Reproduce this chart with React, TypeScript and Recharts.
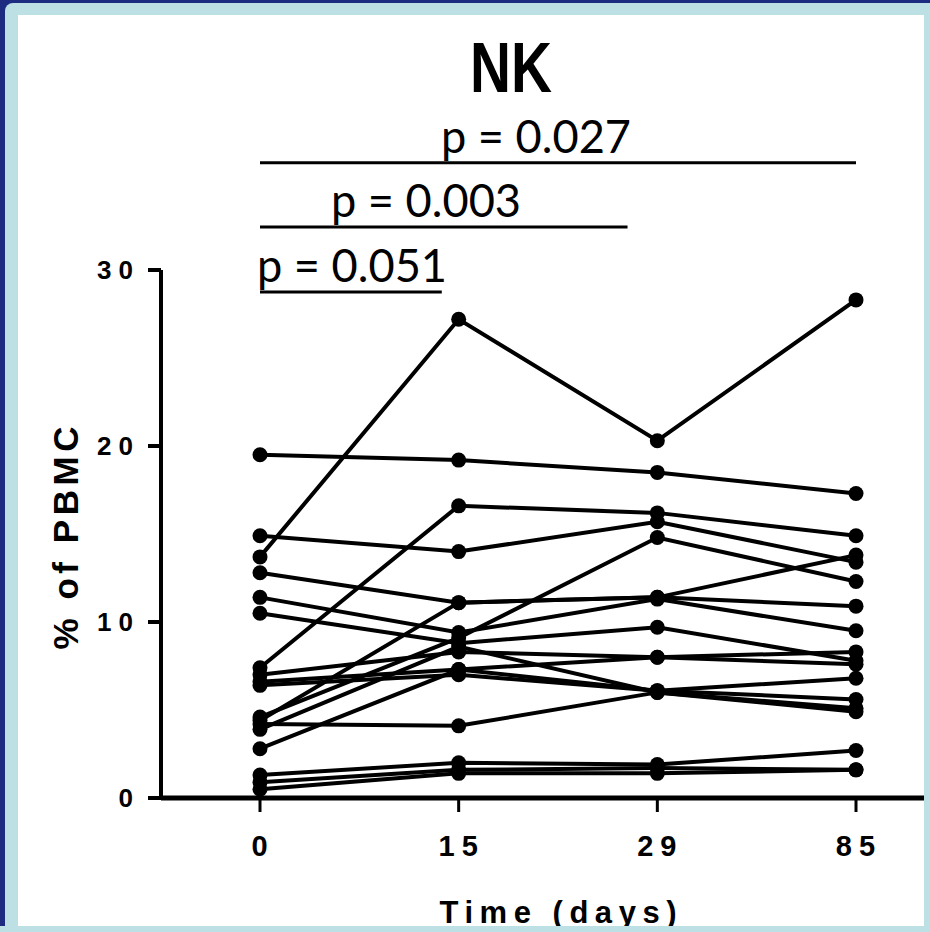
import React from 'react';
import { LineChart, Line, XAxis, YAxis, ReferenceLine } from 'recharts';

// Categories (time points) and tick labels
const days = ['0', '15', '29', '85'];
const yTicks = [0, 10, 20, 30];

// One array per subject: % of PBMC at days 0, 15, 29, 85
const s01 = [19.5, 19.2, 18.5, 17.3];
const s02 = [13.7, 27.2, 20.3, 28.3];
const s03 = [14.9, 14.0, 15.7, 13.4];
const s04 = [7.4, 16.6, 16.2, 14.9];
const s05 = [4.6, 9.1, 14.8, 12.3];
const s06 = [12.8, 11.1, 11.4, 10.9];
const s07 = [4.4, 11.1, 11.4, 13.8];
const s08 = [11.4, 9.4, 11.3, 9.5];
const s09 = [10.5, 8.8, 9.7, 7.8];
const s10 = [7.0, 8.3, 8.0, 8.3];
const s11 = [6.6, 7.3, 8.0, 7.6];
const s12 = [6.4, 7.0, 6.1, 5.6];
const s13 = [2.8, 7.3, 6.1, 6.8];
const s14 = [3.9, 8.6, 6.0, 5.1];
const s15 = [4.2, 4.1, 6.0, 4.9];
const s16 = [1.3, 2.0, 1.9, 2.7];
const s17 = [0.9, 1.6, 1.7, 1.6];
const s18 = [0.5, 1.4, 1.4, 1.6];

const subjects = [s01, s02, s03, s04, s05, s06, s07, s08, s09, s10, s11, s12, s13, s14, s15, s16, s17, s18];

// Significance annotations
const pTexts = ['p = 0.027', 'p = 0.003', 'p = 0.051'];

const data = days.map((d, i) => {
  const row: Record<string, number | string> = { idx: i, day: d };
  subjects.forEach((s, k) => {
    row[`s${k}`] = s[i];
  });
  return row;
});

const SANS = '"Liberation Sans", Arial, sans-serif';

const PLabel = (props: any) => {
  const { viewBox, text, startOffset } = props;
  if (!viewBox) return null;
  return (
    <text
      x={viewBox.x + startOffset}
      y={viewBox.y - 10}
      fontFamily="Lato, sans-serif"
      fontSize={46}
      textLength={190}
      lengthAdjust="spacingAndGlyphs"
      fill="#000"
    >
      {text}
    </text>
  );
};

const YTick = (props: any) => {
  const { x, y, payload } = props;
  return (
    <text x={x} y={y} dy={9} textAnchor="end" fontFamily={SANS} fontWeight="bold" fontSize={26} letterSpacing={7} fill="#000">
      {payload.value}
    </text>
  );
};

const XTick = (props: any) => {
  const { x, y, payload } = props;
  return (
    <text x={x + 3} y={y} dy={24} textAnchor="middle" fontFamily={SANS} fontWeight="bold" fontSize={29} letterSpacing={7} fill="#000">
      {days[payload.value]}
    </text>
  );
};

const XLabel = (props: any) => {
  const { viewBox } = props;
  if (!viewBox) return null;
  const cx = viewBox.x + 99 + (viewBox.width - 99 - 68) / 2;
  return (
    <text x={cx} y={viewBox.y + 125} textAnchor="middle" fontFamily={SANS} fontWeight="bold" fontSize={31} textLength={237} fill="#000">
      Time (days)
    </text>
  );
};

const YLabel = (props: any) => {
  const { viewBox } = props;
  if (!viewBox) return null;
  const cx = viewBox.x + 78;
  const cy = viewBox.y + viewBox.height / 2 + 4;
  return (
    <text
      x={cx}
      y={cy}
      textAnchor="middle"
      transform={`rotate(-90, ${cx}, ${cy})`}
      fontFamily={SANS}
      fontWeight="bold"
      fontSize={35}
      textLength={223}
      fill="#000"
    >
      % of PBMC
    </text>
  );
};

export default function App() {
  const levels = [36.1, 32.45, 28.75];
  const barEnds = [3, 1.85, 0.915];
  const startOffsets = [181, 71, -3];
  return (
    <div style={{ position: 'absolute', left: 0, top: 0, width: 930, height: 932, background: '#1d2c80', overflow: 'hidden' }}>
      <div style={{ position: 'absolute', left: 5, top: 3, width: 925, height: 929, background: '#bce0e3', borderTopLeftRadius: 8 }} />
      <div style={{ position: 'absolute', left: 18, top: 15, width: 906, height: 911, background: '#ffffff' }} />
      <svg width={930} height={120} style={{ position: 'absolute', left: 0, top: 0 }}>
        <text x={511} y={92} textAnchor="middle" fontFamily={SANS} fontWeight="bold" fontSize={70} textLength={82} lengthAdjust="spacingAndGlyphs" fill="#000">
          NK
        </text>
      </svg>
      <div style={{ position: 'absolute', left: 0, top: 0 }}>
        <LineChart width={930} height={932} data={data} margin={{ top: 270, right: 6, bottom: 0, left: 0 }}>
          <XAxis
            type="number"
            dataKey="idx"
            domain={[0, 3]}
            ticks={[0, 1, 2, 3]}
            interval={0}
            padding={{ left: 99, right: 68 }}
            height={134}
            tickSize={14}
            tickMargin={20}
            axisLine={{ stroke: '#000', strokeWidth: 5 }}
            tickLine={{ stroke: '#000', strokeWidth: 3 }}
            tick={<XTick />}
            label={<XLabel />}
          />
          <YAxis
            type="number"
            domain={[0, 30]}
            ticks={yTicks}
            interval={0}
            width={161}
            tickSize={13}
            tickMargin={8}
            axisLine={{ stroke: '#000', strokeWidth: 4 }}
            tickLine={{ stroke: '#000', strokeWidth: 4 }}
            tick={<YTick />}
            label={<YLabel />}
          />
          {subjects.map((_, k) => (
            <Line
              key={k}
              type="linear"
              dataKey={`s${k}`}
              stroke="#000"
              strokeWidth={4}
              dot={{ r: 7.5, fill: '#000', stroke: 'none' }}
              activeDot={false}
              isAnimationActive={false}
            />
          ))}
          {pTexts.map((t, i) => (
            <ReferenceLine
              key={t}
              segment={[
                { x: 0, y: levels[i] },
                { x: barEnds[i], y: levels[i] },
              ]}
              ifOverflow="visible"
              stroke="#000"
              strokeWidth={3}
              label={<PLabel text={t} startOffset={startOffsets[i]} />}
            />
          ))}
        </LineChart>
      </div>
      <div style={{ position: 'absolute', left: 0, top: 926, width: 930, height: 6, background: '#bce0e3' }} />
    </div>
  );
}
